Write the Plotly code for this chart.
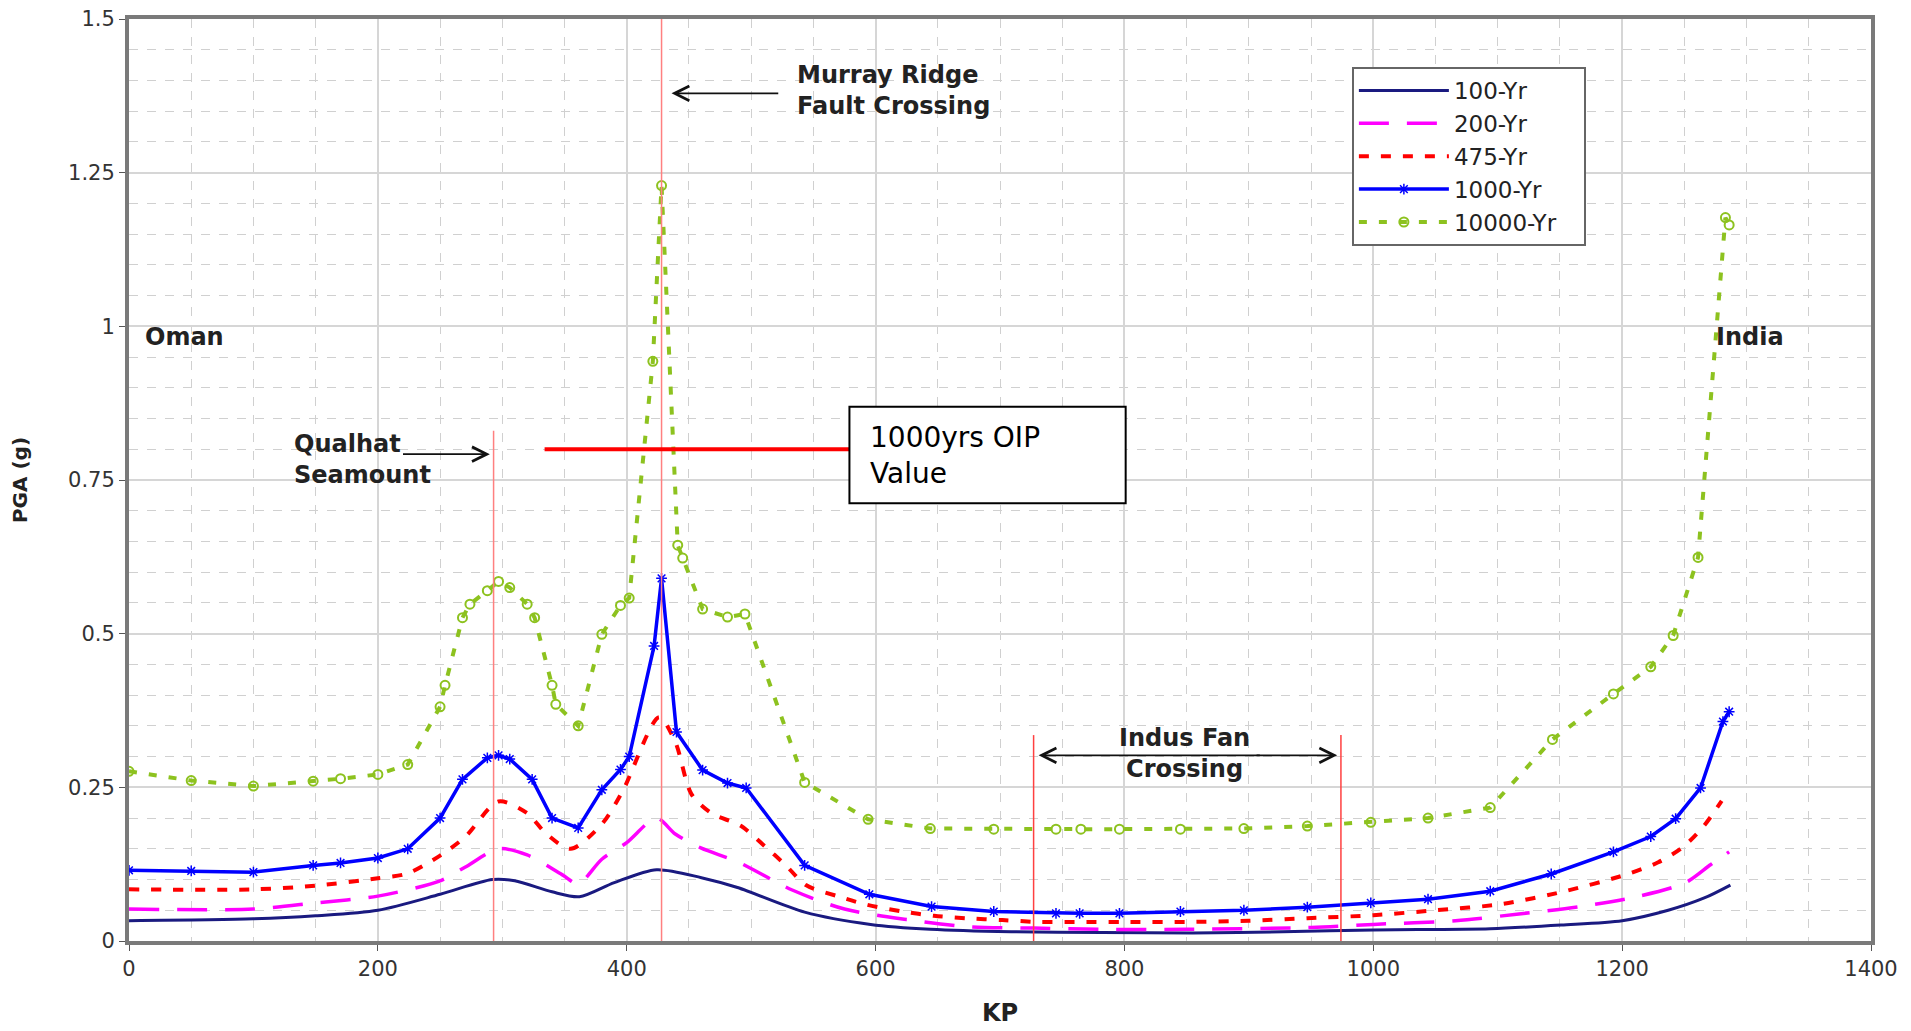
import plotly.graph_objects as go

# ---------------- data ----------------
kp_100 = [0, 100, 150, 200, 250, 292, 310, 340, 362, 390, 424, 460, 489, 543, 596, 644, 709, 782, 855, 927, 1000, 1094, 1151, 1200, 1237, 1266, 1287]
pga_100 = [0.033, 0.036, 0.041, 0.050, 0.076, 0.100, 0.098, 0.080, 0.072, 0.095, 0.116, 0.103, 0.087, 0.047, 0.027, 0.019, 0.015, 0.014, 0.013, 0.015, 0.018, 0.020, 0.026, 0.033, 0.050, 0.070, 0.091]

kp_200 = [0, 100, 150, 200, 250, 270, 297, 320, 348, 361, 380, 400, 424, 439, 460, 489, 533, 575, 625, 676, 727, 782, 850, 950, 1000, 1066, 1117, 1166, 1214, 1251, 1271, 1286]
pga_200 = [0.052, 0.052, 0.062, 0.073, 0.098, 0.120, 0.150, 0.140, 0.108, 0.093, 0.133, 0.160, 0.200, 0.174, 0.151, 0.129, 0.083, 0.052, 0.035, 0.023, 0.021, 0.019, 0.019, 0.022, 0.027, 0.033, 0.044, 0.056, 0.073, 0.095, 0.124, 0.145]

kp_475 = [0, 100, 150, 200, 224, 250, 270, 297, 320, 335, 355, 380, 397, 426, 439, 452, 468, 492, 511, 527, 544, 571, 593, 622, 647, 673, 702, 731, 760, 800, 850, 900, 947, 1000, 1050, 1103, 1154, 1203, 1229, 1249, 1266, 1280]
pga_475 = [0.084, 0.084, 0.090, 0.102, 0.110, 0.139, 0.169, 0.227, 0.208, 0.175, 0.150, 0.190, 0.245, 0.364, 0.324, 0.239, 0.208, 0.187, 0.154, 0.125, 0.091, 0.072, 0.059, 0.048, 0.041, 0.037, 0.034, 0.031, 0.031, 0.031, 0.031, 0.033, 0.037, 0.042, 0.050, 0.060, 0.081, 0.108, 0.128, 0.153, 0.188, 0.228]

kp_1000 = [0, 50, 100, 148, 170, 200, 224, 250, 268, 288, 297, 306, 324, 340, 361, 380, 395, 402, 422, 428, 440, 461, 481, 496, 543, 595, 645, 695, 745, 764, 796, 845, 896, 947, 998, 1044, 1094, 1143, 1193, 1223, 1243, 1263, 1281, 1286]
pga_1000 = [0.115, 0.114, 0.112, 0.123, 0.127, 0.135, 0.150, 0.200, 0.263, 0.298, 0.302, 0.296, 0.263, 0.200, 0.184, 0.246, 0.279, 0.300, 0.480, 0.590, 0.340, 0.278, 0.257, 0.249, 0.123, 0.076, 0.056, 0.048, 0.045, 0.045, 0.045, 0.048, 0.050, 0.055, 0.062, 0.068, 0.081, 0.109, 0.145, 0.170, 0.199, 0.249, 0.357, 0.373]

kp_10000 = [0, 50, 100, 148, 170, 200, 224, 250, 254, 268, 274, 288, 297, 306, 320, 326, 340, 343, 361, 380, 395, 402, 421, 428, 441, 445, 461, 481, 495, 543, 594, 644, 695, 745, 765, 796, 845, 896, 947, 998, 1044, 1094, 1144, 1193, 1223, 1241, 1261, 1283, 1286]
pga_10000 = [0.276, 0.261, 0.252, 0.260, 0.264, 0.271, 0.287, 0.381, 0.416, 0.526, 0.548, 0.570, 0.585, 0.575, 0.548, 0.526, 0.416, 0.385, 0.350, 0.499, 0.546, 0.558, 0.943, 1.229, 0.644, 0.623, 0.540, 0.527, 0.532, 0.258, 0.198, 0.183, 0.182, 0.182, 0.182, 0.182, 0.182, 0.183, 0.187, 0.193, 0.200, 0.217, 0.328, 0.402, 0.446, 0.497, 0.624, 1.177, 1.165]

x_ticks = [0, 200, 400, 600, 800, 1000, 1200, 1400]
y_ticks = [0, 0.25, 0.5, 0.75, 1, 1.25, 1.5]
y_tick_labels = ["0", "0.25", "0.5", "0.75", "1", "1.25", "1.5"]

oip_value = 0.8
qualhat_kp = 293
murray_kp = 428
indus_start, indus_end = 727, 974

FONT = "DejaVu Sans, Liberation Sans, Arial, sans-serif"
PAD = "\u00a0\u00a0\u00a0"

fig = go.Figure()
fig.add_trace(go.Scatter(x=kp_100, y=pga_100, name="100-Yr", mode="lines",
                         line=dict(color="#1a1a80", width=3, shape="spline", smoothing=0.8)))
fig.add_trace(go.Scatter(x=kp_200, y=pga_200, name="200-Yr", mode="lines",
                         line=dict(color="#ff00ff", width=3.5, dash="30px,18px", shape="spline", smoothing=0.8)))
fig.add_trace(go.Scatter(x=kp_475, y=pga_475, name="475-Yr", mode="lines",
                         line=dict(color="#ff0000", width=4, dash="10px,12px", shape="spline", smoothing=0.8)))
fig.add_trace(go.Scatter(x=kp_1000, y=pga_1000, name="1000-Yr", mode="lines+markers",
                         line=dict(color="#0000ff", width=3.5),
                         marker=dict(symbol="asterisk-open", size=9, line=dict(color="#0000ff", width=1.5))))
fig.add_trace(go.Scatter(x=kp_10000, y=pga_10000, name="10000-Yr" + PAD, mode="lines+markers",
                         line=dict(color="#8dc21f", width=4, dash="8px,12px"),
                         marker=dict(symbol="circle-open", size=9, color="#8dc21f", line=dict(color="#8dc21f", width=2))))

# ---- red reference lines ----
shapes = []
shapes.append(dict(type="line", xref="x", yref="y", x0=qualhat_kp, x1=qualhat_kp, y0=0, y1=0.83,
                   line=dict(color="#ff8080", width=1.5), layer="above"))
shapes.append(dict(type="line", xref="x", yref="y", x0=murray_kp, x1=murray_kp, y0=0, y1=1.5,
                   line=dict(color="#ff8080", width=1.5), layer="above"))
for kx in (indus_start, indus_end):
    shapes.append(dict(type="line", xref="x", yref="y", x0=kx, x1=kx, y0=0, y1=0.335,
                       line=dict(color="#ff4040", width=1.5), layer="above"))
shapes.append(dict(type="line", xref="x", yref="y", x0=334, x1=579, y0=oip_value, y1=oip_value,
                   line=dict(color="#ff0000", width=4), layer="above"))
shapes.append(dict(type="rect", xref="x", yref="y", x0=579, x1=801, y0=0.712, y1=0.869,
                   line=dict(color="#000000", width=2), fillcolor="white", layer="above"))

annotations = []
def txt(x, y, t, size=24, bold=True, xanchor="left", align="left"):
    annotations.append(dict(x=x, y=y, xref="x", yref="y", text=(f"<b>{t}</b>" if bold else t),
                            showarrow=False, xanchor=xanchor, yanchor="middle", align=align,
                            font=dict(family=FONT, size=size, color="#222222")))

def arrow(x_tail, x_head, y):
    annotations.append(dict(x=x_head, y=y, ax=x_tail, ay=y, xref="x", yref="y", axref="x", ayref="y",
                            text="", showarrow=True, arrowhead=5, arrowsize=1.6, arrowwidth=1.8,
                            arrowcolor="#111111"))

txt(535, 1.384, "Murray Ridge<br>Fault Crossing")
arrow(523, 436, 1.379)
txt(131, 0.784, "Qualhat<br>Seamount")
txt(11, 0.982, "Oman")
txt(1274, 0.982, "India")
arrow(219, 290, 0.792)
txt(848, 0.305, "Indus Fan<br>Crossing", xanchor="center", align="center")
arrow(910, 731, 0.302)
arrow(905, 971, 0.302)
annotations.append(dict(x=594, y=0.79, xref="x", yref="y", text="1000yrs OIP<br>Value", showarrow=False,
                        xanchor="left", yanchor="middle", align="left",
                        font=dict(family=FONT, size=28, color="#000000")))

fig.update_layout(
    width=1903, height=1023,
    margin=dict(l=121, r=40, t=11, b=90, autoexpand=False),
    paper_bgcolor="white", plot_bgcolor="white",
    font=dict(family=FONT, size=21, color="#333333"),
    shapes=shapes, annotations=annotations,
    legend=dict(x=0.702, y=0.948, xanchor="left", yanchor="top",
                bgcolor="white", bordercolor="#666666", borderwidth=2,
                font=dict(family=FONT, size=23, color="#222222"),
                itemwidth=90, tracegroupgap=0),
)
fig.update_xaxes(range=[0, 1400], tickvals=x_ticks, ticks="outside", ticklen=6, tickcolor="#555555",
                 automargin=False, ticklabeloverflow="allow",
                 showline=True, linecolor="#7a7a7a", linewidth=4, mirror=True,
                 showgrid=True, gridcolor="#d6d6d6", gridwidth=2,
                 minor=dict(dtick=50, showgrid=True, gridcolor="#d0d0d0", griddash="dash", gridwidth=1),
                 title=dict(text="<b>KP</b>", font=dict(size=24, color="#222222"), standoff=25),
                 zeroline=False)
fig.update_yaxes(range=[0, 1.5], tickvals=y_ticks, ticktext=y_tick_labels, ticks="outside", ticklen=6,
                 tickcolor="#555555", automargin=False, ticklabeloverflow="allow",
                 showline=True, linecolor="#7a7a7a", linewidth=4, mirror=True,
                 showgrid=True, gridcolor="#d6d6d6", gridwidth=2,
                 minor=dict(dtick=0.05, showgrid=True, gridcolor="#d0d0d0", griddash="dash", gridwidth=1),
                 title=dict(text="<b>PGA (g)</b>", font=dict(size=20, color="#222222"), standoff=38),
                 zeroline=False)

fig.write_html("out.html")
